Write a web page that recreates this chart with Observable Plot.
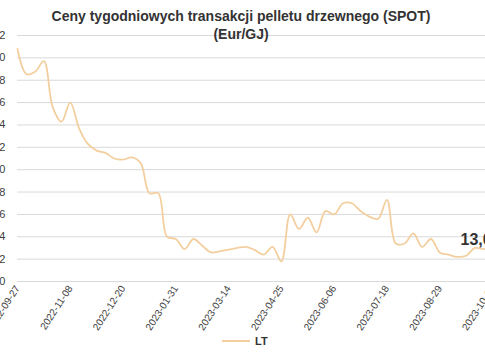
<!DOCTYPE html>
<html>
<head>
<meta charset="utf-8">
<script src="https://cdn.jsdelivr.net/npm/d3@7"></script>
<script src="https://cdn.jsdelivr.net/npm/@observablehq/plot@0.6"></script>
<style>
  html, body { margin: 0; padding: 0; background: #fff; }
  #wrap { position: relative; width: 485px; height: 360px; overflow: hidden; background: #fff; font-family: "Liberation Sans", Arial, sans-serif; }
  #chart { position: absolute; left: -13px; top: 0; width: 515px; height: 330px; }
  #chart svg { max-width: none !important; width: 515px; height: 330px; }
  #chart g[aria-label^="x-axis"] { font-size: 10px; }
  #title { position: absolute; left: 0; top: 7px; width: 482px; text-align: center; font-weight: bold; font-size: 14px; line-height: 18px; color: #333; }
  #legend { position: absolute; left: 222px; top: 335px; display: flex; align-items: center; font-size: 11px; font-weight: bold; color: #333; }
</style>
</head>
<body>
<div id="wrap">
  <div id="chart"></div>
  <div id="title">Ceny tygodniowych transakcji pelletu drzewnego (SPOT)<br>(Eur/GJ)</div>
  <div id="legend"><svg width="30" height="10"><line x1="0" y1="5" x2="28" y2="5" stroke="#f3cf9f" stroke-width="2"/></svg><span style="margin-left:3px">LT</span></div>
</div>
<script>
// ---- data ----
const startDate = "2022-09-27";
const weeklyPrice = [30.8, 28.55, 28.75, 29.7, 25.6, 24.3, 26.0, 23.7, 22.3, 21.7,
  21.5, 21.0, 20.9, 21.1, 20.6, 17.9, 17.9, 14.0, 13.8, 12.9,
  13.8, 13.2, 12.6, 12.7, 12.85, 13.0, 13.1, 12.8, 12.4, 13.1,
  11.8, 16.0, 14.7, 15.7, 14.4, 16.3, 16.0, 17.0, 17.0, 16.3,
  15.8, 15.6, 17.3, 13.4, 13.4, 14.3, 13.1, 13.8, 12.6, 12.4,
  12.2, 12.3, 13.0, 12.9, 13.0];
const xTickLabels = ["2022-09-27","2022-11-08","2022-12-20","2023-01-31","2023-03-14",
  "2023-04-25","2023-06-06","2023-07-18","2023-08-29","2023-10-10"];
const yTicks = [10, 12, 14, 16, 18, 20, 22, 24, 26, 28, 30, 32];
const seriesName = "LT";
const lastLabel = "13,0";

// ---- build table ----
const parse = d3.utcParse("%Y-%m-%d");
const t0 = parse(startDate);
const data = weeklyPrice.map((v, i) => ({date: d3.utcWeek.offset(t0, i), value: v}));
const last = data[data.length - 1];

const lineColor = "#f3cf9f";

const plot = Plot.plot({
  width: 515,
  height: 330,
  marginLeft: 30,
  marginRight: 10,
  marginTop: 35,
  marginBottom: 49,
  style: {fontFamily: "Liberation Sans, Arial, sans-serif", fontSize: "11px", color: "#404040", background: "transparent", overflow: "visible"},
  x: {
    type: "utc",
    domain: [t0, parse(xTickLabels[xTickLabels.length - 1])],
    ticks: xTickLabels.map(parse),
    tickFormat: d3.utcFormat("%Y-%m-%d"),
    tickRotate: -57,
    tickSize: 0,
    tickPadding: 5,
    label: null
  },
  y: {
    domain: [10, 32],
    ticks: yTicks,
    tickFormat: d => String(d),
    tickSize: 0,
    tickPadding: 12,
    label: null
  },
  marks: [
    Plot.ruleY(yTicks, {stroke: "#d9d9d9", strokeWidth: 1}),
    Plot.line(data, {x: "date", y: "value", stroke: lineColor, strokeWidth: 1.8, curve: "catmull-rom"}),
    Plot.text([last], {x: "date", y: "value", text: () => lastLabel, textAnchor: "start", lineAnchor: "bottom", dx: -32, dy: -3, fontSize: 16, fontWeight: "bold", fill: "#333"})
  ]
});
document.getElementById("chart").appendChild(plot);
</script>
</body>
</html>
